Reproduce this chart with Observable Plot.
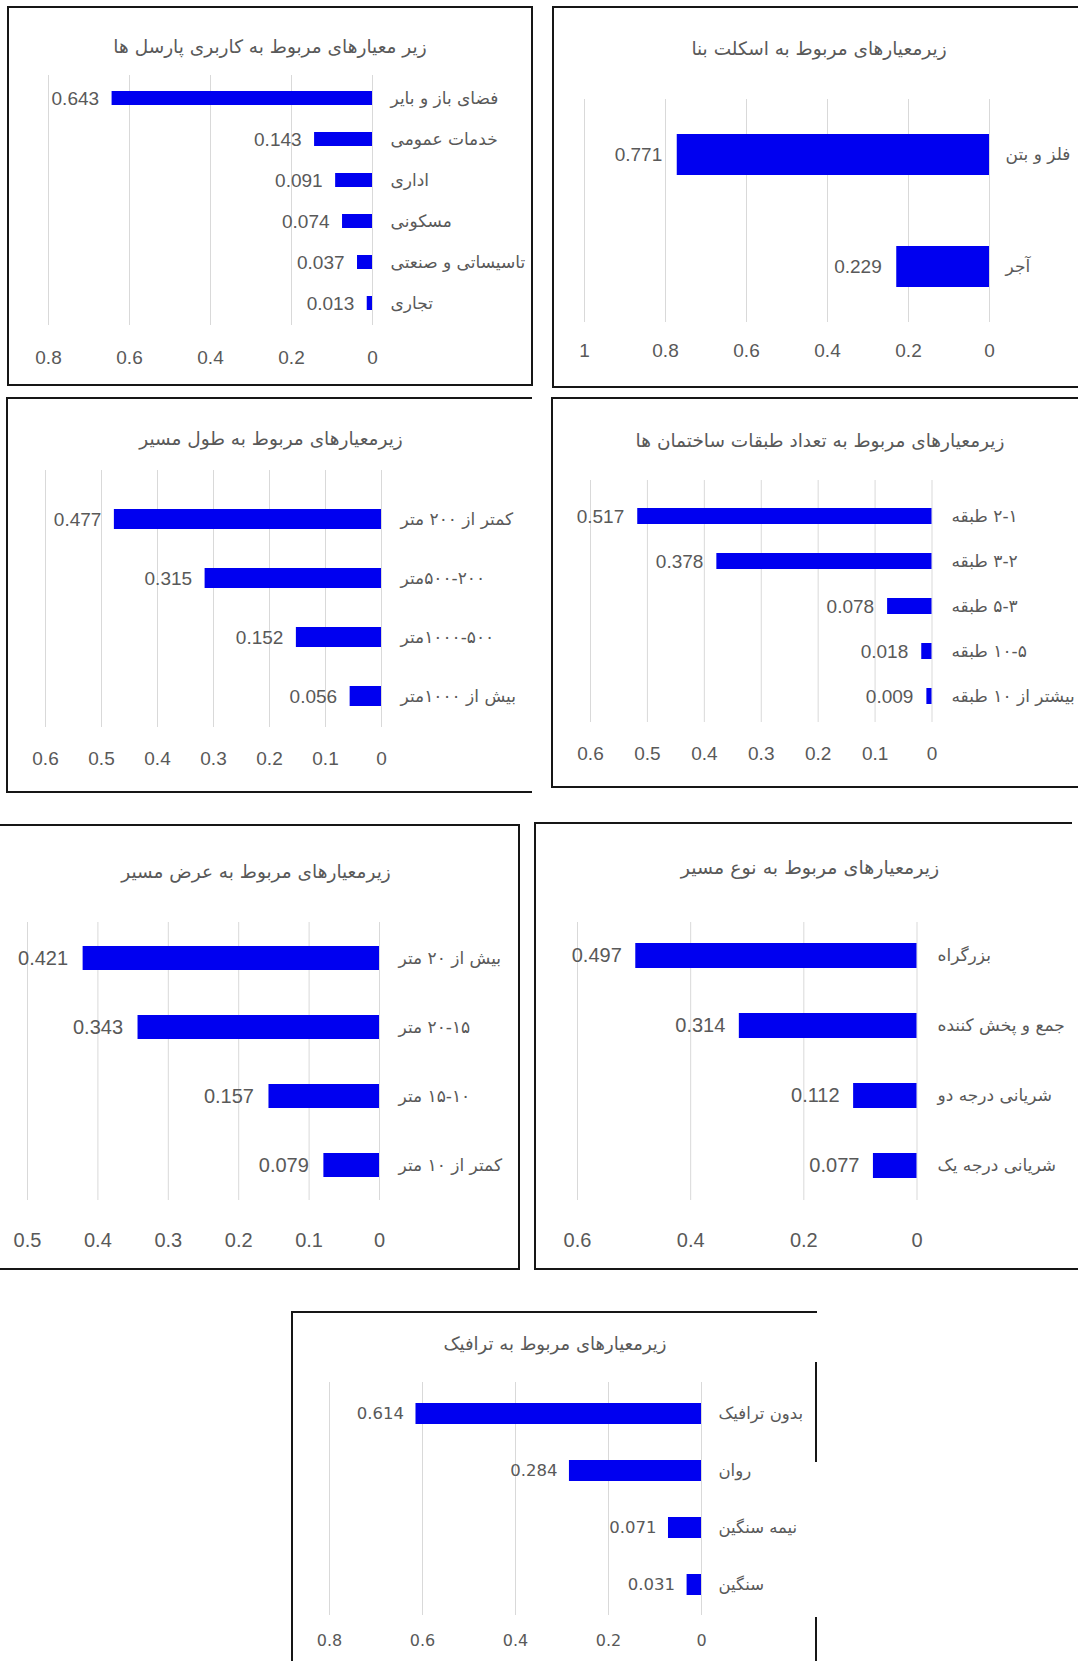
<!DOCTYPE html>
<html>
<head>
<meta charset="utf-8">
<script src="https://cdn.jsdelivr.net/npm/d3@7"></script>
<script src="https://cdn.jsdelivr.net/npm/@observablehq/plot@0.6"></script>
<style>
  html, body { margin: 0; padding: 0; background: #fff; }
  #page { position: relative; width: 1078px; height: 1661px; overflow: hidden; background: #fff; }
  .panel { position: absolute; box-sizing: border-box; }
  .panel svg { position: absolute; left: 0; top: 0; }
  .title { position: absolute; width: 600px; text-align: center; direction: rtl; white-space: nowrap;
           font-family: "DejaVu Sans", sans-serif; color: #595959; line-height: 1; }
  .bl { position: absolute; background: #161616; }
</style>
</head>
<body>
<div id="page"></div>
<script>
// ---------- DATA ----------
const landuseTitle = "زیر معیارهای مربوط به کاربری پارسل ها";
const landuseCats = ["فضای باز و بایر", "خدمات عمومی", "اداری", "مسکونی", "تاسیساتی و صنعتی", "تجاری"];
const landuseValues = [0.643, 0.143, 0.091, 0.074, 0.037, 0.013];
const landuseTicks = [0, 0.2, 0.4, 0.6, 0.8];

const skeletonTitle = "زیرمعیارهای مربوط به اسکلت بنا";
const skeletonCats = ["فلز و بتن", "آجر"];
const skeletonValues = [0.771, 0.229];
const skeletonTicks = [0, 0.2, 0.4, 0.6, 0.8, 1];

const lengthTitle = "زیرمعیارهای مربوط به طول مسیر";
const lengthCats = ["کمتر از ۲۰۰ متر", "۵۰۰-۲۰۰متر", "۱۰۰۰-۵۰۰متر", "بیش از ۱۰۰۰متر"];
const lengthValues = [0.477, 0.315, 0.152, 0.056];
const lengthTicks = [0, 0.1, 0.2, 0.3, 0.4, 0.5, 0.6];

const floorsTitle = "زیرمعیارهای مربوط به تعداد طبقات ساختمان ها";
const floorsCats = ["۲-۱ طبقه", "۳-۲ طبقه", "۵-۳ طبقه", "۱۰-۵ طبقه", "بیشتر از ۱۰ طبقه"];
const floorsValues = [0.517, 0.378, 0.078, 0.018, 0.009];
const floorsTicks = [0, 0.1, 0.2, 0.3, 0.4, 0.5, 0.6];

const widthTitle = "زیرمعیارهای مربوط به عرض مسیر";
const widthCats = ["بیش از ۲۰ متر", "۲۰-۱۵ متر", "۱۵-۱۰ متر", "کمتر از ۱۰ متر"];
const widthValues = [0.421, 0.343, 0.157, 0.079];
const widthTicks = [0, 0.1, 0.2, 0.3, 0.4, 0.5];

const typeTitle = "زیرمعیارهای مربوط به نوع مسیر";
const typeCats = ["بزرگراه", "جمع و پخش کننده", "شریانی درجه دو", "شریانی درجه یک"];
const typeValues = [0.497, 0.314, 0.112, 0.077];
const typeTicks = [0, 0.2, 0.4, 0.6];

const trafficTitle = "زیرمعیارهای مربوط به ترافیک";
const trafficCats = ["بدون ترافیک", "روان", "نیمه سنگین", "سنگین"];
const trafficValues = [0.614, 0.284, 0.071, 0.031];
const trafficTicks = [0, 0.2, 0.4, 0.6, 0.8];

// ---------- STYLE / LAYOUT ----------
const BLUE = "#0000f0";
const GREY = "#595959";
const GRID = "#d9d9d9";
const NUMFONT = "Liberation Sans, Arial, sans-serif";
const ARFONT = "DejaVu Sans, sans-serif";
const fmt = d3.format(".3f");

const page = document.getElementById("page");

function line(x, y, w, h) {
  const d = document.createElement("div");
  d.className = "bl";
  Object.assign(d.style, {left: x + "px", top: y + "px", width: w + "px", height: h + "px"});
  page.appendChild(d);
}

function panel(cfg, title, cats, values, ticks) {
  const [L, T, W, H] = cfg.box;
  const div = document.createElement("div");
  div.className = "panel";
  Object.assign(div.style, {left: L + "px", top: T + "px", width: W + "px", height: H + "px"});
  page.appendChild(div);

  const data = cats.map((c, i) => ({cat: c, value: values[i]}));
  const n = cats.length;
  const s = cfg.step;
  const p = 1 - cfg.barH / s;
  const y0 = cfg.c0 - s / 2 - T;
  const y1 = cfg.c0 + (n - 0.5) * s - T;
  const xmax = ticks[ticks.length - 1];

  const chart = Plot.plot({
    width: W,
    height: H,
    marginTop: cfg.gridTop - T,
    marginBottom: T + H - cfg.gridBottom,
    marginLeft: 0,
    marginRight: 0,
    style: {background: "transparent", overflow: "visible"},
    x: {domain: [0, xmax], range: [cfg.xZero - L, cfg.xMax - L], label: null},
    y: {type: "band", domain: cats, range: [y0, y1], paddingInner: p, paddingOuter: p / 2, axis: null},
    marks: [
      Plot.gridX(ticks, {stroke: GRID, strokeOpacity: 1, strokeWidth: 1}),
      Plot.barX(data, {x: "value", y: "cat", fill: BLUE}),
      Plot.text(data, {x: "value", y: "cat", text: d => fmt(d.value), textAnchor: "end", dx: -cfg.gap,
        fill: GREY, fontSize: cfg.valFont, fontFamily: cfg.numFamily || NUMFONT}),
      Plot.text(data, {x: 0, y: "cat", text: d => "\u202B" + d.cat + "\u202C", textAnchor: "start",
        dx: cfg.catX - cfg.xZero, fill: GREY, fontSize: cfg.catFont, fontFamily: ARFONT}),
      Plot.axisX(ticks, {anchor: "bottom", tickSize: 0, tickPadding: cfg.tickY - cfg.gridBottom,
        lineAnchor: "middle", label: null, fill: GREY, fontSize: cfg.tickFont,
        fontFamily: cfg.numFamily || NUMFONT, tickFormat: d => String(d)})
    ]
  });
  div.appendChild(chart);

  const t = document.createElement("div");
  t.className = "title";
  t.textContent = title;
  Object.assign(t.style, {left: (cfg.title[0] - 300) + "px", top: (cfg.title[1] - cfg.titleFont * 0.55) + "px",
    fontSize: cfg.titleFont + "px"});
  page.appendChild(t);
}

// Panel 1: land use
panel({box: [8, 7, 524, 378], xZero: 372, xMax: 48, c0: 96, step: 41.8, barH: 14,
  gridTop: 75, gridBottom: 325, tickY: 357, gap: 13, catX: 390,
  valFont: 19, tickFont: 19, catFont: 17, title: [270, 48], titleFont: 18.5},
  landuseTitle, landuseCats, landuseValues, landuseTicks);

// Panel 2: skeleton
panel({box: [553, 7, 525, 380], xZero: 989, xMax: 584, c0: 154, step: 112, barH: 41,
  gridTop: 99, gridBottom: 322, tickY: 350, gap: 15, catX: 1005,
  valFont: 19, tickFont: 19, catFont: 17, title: [819, 50], titleFont: 18.5},
  skeletonTitle, skeletonCats, skeletonValues, skeletonTicks);

// Panel 3: route length
panel({box: [7, 398, 524, 394], xZero: 381, xMax: 45, c0: 518, step: 59.7, barH: 20,
  gridTop: 470, gridBottom: 727, tickY: 758, gap: 13, catX: 400,
  valFont: 19, tickFont: 19, catFont: 17, title: [271, 440], titleFont: 18.5},
  lengthTitle, lengthCats, lengthValues, lengthTicks);

// Panel 4: number of floors
panel({box: [552, 398, 526, 389], xZero: 931.5, xMax: 590, c0: 514.5, step: 45.9, barH: 16,
  gridTop: 480, gridBottom: 722, tickY: 753, gap: 13.5, catX: 951,
  valFont: 19, tickFont: 19, catFont: 17, title: [820, 442], titleFont: 18.5},
  floorsTitle, floorsCats, floorsValues, floorsTicks);

// Panel 5: route width
panel({box: [0, 825, 519, 445], xZero: 379, xMax: 27, c0: 957, step: 69.7, barH: 24,
  gridTop: 922, gridBottom: 1200, tickY: 1240, gap: 15, catX: 398,
  valFont: 20, tickFont: 20, catFont: 17, title: [256, 873], titleFont: 18.5},
  widthTitle, widthCats, widthValues, widthTicks);

// Panel 6: route type
panel({box: [535, 823, 543, 447], xZero: 916.5, xMax: 577, c0: 955, step: 70.3, barH: 25,
  gridTop: 922, gridBottom: 1200, tickY: 1240, gap: 14, catX: 937,
  valFont: 20, tickFont: 20, catFont: 17, title: [810, 868], titleFont: 19},
  typeTitle, typeCats, typeValues, typeTicks);

// Panel 7: traffic
panel({box: [292, 1312, 524, 349], xZero: 701, xMax: 329, c0: 1412, step: 57.7, barH: 21,
  gridTop: 1382, gridBottom: 1615, tickY: 1640, gap: 12, catX: 718,
  valFont: 16.5, tickFont: 16, catFont: 16.5, numFamily: "DejaVu Sans, sans-serif", title: [555, 1345], titleFont: 18},
  trafficTitle, trafficCats, trafficValues, trafficTicks);

// ---------- panel frames ----------
// panel 1
line(7, 6, 526, 2); line(7, 6, 2, 380); line(531, 6, 2, 380); line(7, 384, 526, 2);
// panel 2
line(552, 6, 526, 2); line(552, 6, 2, 382); line(552, 386, 526, 2);
// panel 3
line(6, 397, 526, 2); line(6, 397, 2, 396); line(6, 791, 526, 2);
// panel 4
line(551, 397, 527, 2); line(551, 397, 2, 391); line(551, 786, 527, 2);
// panel 5
line(0, 824, 520, 2); line(518, 824, 2, 446); line(0, 1268, 520, 2);
// panel 6
line(534, 822, 538, 2); line(534, 822, 2, 448); line(534, 1268, 544, 2);
// panel 7
line(291, 1311, 526, 2); line(291, 1311, 2, 350); line(815, 1362, 2, 100); line(815, 1617, 2, 44);
</script>
</body>
</html>
